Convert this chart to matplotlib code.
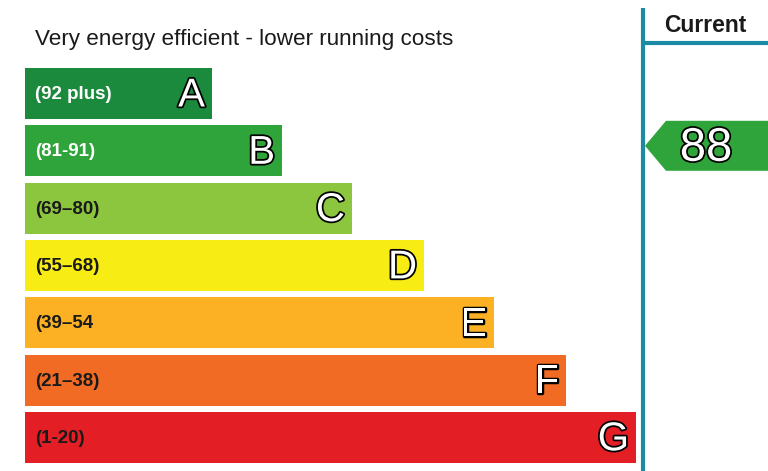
import matplotlib
matplotlib.use("Agg")
import matplotlib.pyplot as plt
from matplotlib.patches import Rectangle, Polygon
import matplotlib.patheffects as pe

plt.rcParams['font.family'] = ['Liberation Sans', 'DejaVu Sans']

# ---- data ----
bands = ["A", "B", "C", "D", "E", "F", "G"]
ranges = ["(92 plus)", "(81-91)", "(69–80)", "(55–68)", "(39–54", "(21–38)", "(1-20)"]
bar_lengths = [187, 257, 327, 399, 469, 541, 611]
band_colors = ["#1c8a3d", "#2ea43a", "#8cc63f", "#f7ec14", "#fbb123", "#f26b25", "#e31e25"]
range_text_colors = ["white", "white", "#1a1a1a", "#1a1a1a", "#1a1a1a", "#1a1a1a", "#1a1a1a"]
band_lows = [92, 81, 69, 55, 39, 21, 1]
title = "Very energy efficient - lower running costs"
current_header = "Current"
current_rating = 88

# ---- figure ----
W, H = 768, 471
fig = plt.figure(figsize=(W / 100, H / 100), dpi=100)
ax = fig.add_axes([0, 0, 1, 1])
ax.set_xlim(0, W)
ax.set_ylim(H, 0)
ax.axis("off")

x0 = 25
top0 = 68
pitch = 57.3
bar_h = 51

ax.text(35, 39, title, fontsize=16.2, color="#1a1a1a", va="center", ha="left")

outline = [pe.withStroke(linewidth=2.5, foreground="black")]
for i, (b, r, L, c, tc) in enumerate(zip(bands, ranges, bar_lengths, band_colors, range_text_colors)):
    y = top0 + i * pitch
    ax.add_patch(Rectangle((x0, y), L, bar_h, facecolor=c, edgecolor="none"))
    ax.text(35, y + bar_h / 2 + 1, r, fontsize=13.5, fontweight="bold", color=tc,
            va="center", ha="left")
    ax.text(x0 + L - 7, y + bar_h / 2 + 2, b, fontsize=29, color="white",
            va="center", ha="right", path_effects=outline)

# right column
line_c = "#1b8aa5"
ax.plot([643, 643], [8, H], color=line_c, lw=3, solid_capstyle="butt")
ax.plot([643, W], [43, 43], color=line_c, lw=3, solid_capstyle="butt")
ax.text(705, 26, current_header, fontsize=16.5, fontweight="bold", color="#1a1a1a",
        va="center", ha="center")

# current rating arrow
idx = next(i for i, lo in enumerate(band_lows) if current_rating >= lo)
yc = top0 + idx * pitch + bar_h / 2 - 5
half = 25
ax.add_patch(Polygon([(645, yc), (666, yc - half), (W, yc - half), (W, yc + half), (666, yc + half)],
                     closed=True, facecolor=band_colors[idx], edgecolor="none"))
ax.text(706, yc + 3, str(current_rating), fontsize=34, color="white", va="center", ha="center",
        path_effects=outline)

fig.savefig("out.png", dpi=100)
